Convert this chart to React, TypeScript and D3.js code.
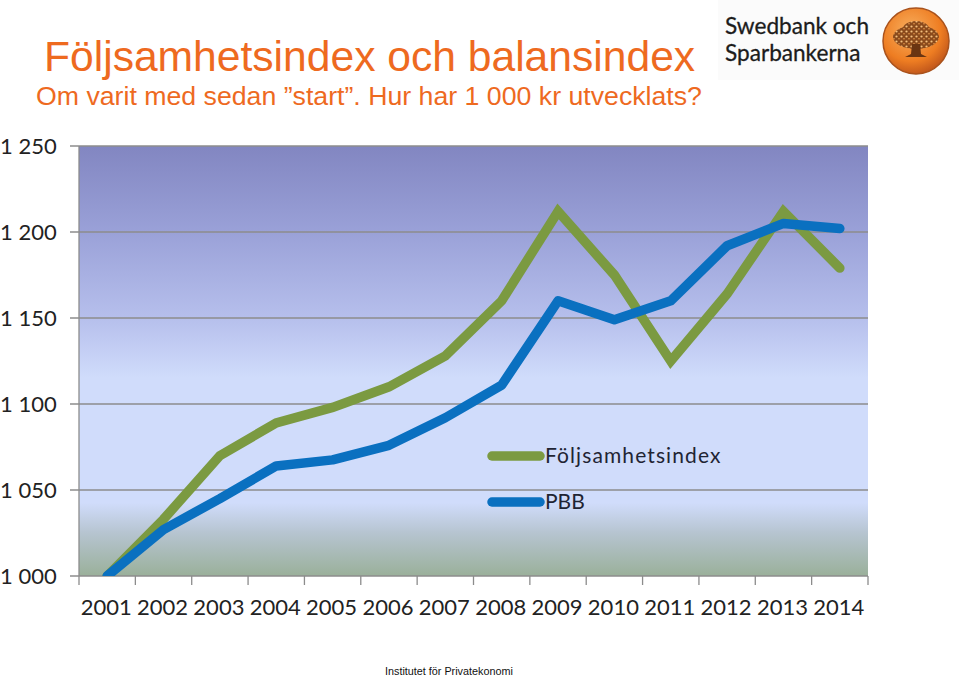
import React from 'react';
import * as d3 from 'd3';

const years = ['2001', '2002', '2003', '2004', '2005', '2006', '2007', '2008', '2009', '2010', '2011', '2012', '2013', '2014'];
const foljsamhet = [1000, 1033, 1070, 1089, 1098, 1110, 1128, 1160, 1212, 1175, 1125, 1164, 1212, 1179];
const pbb = [1000, 1027, 1045, 1064, 1067.5, 1076, 1092, 1111, 1160, 1149, 1160, 1192, 1205, 1202];
const yTicks = [1000, 1050, 1100, 1150, 1200, 1250];
const yTickLabels = ['1 000', '1 050', '1 100', '1 150', '1 200', '1 250'];

const WIDTH = 959;
const HEIGHT = 677;
const GREEN = '#7b9a41';
const BLUE = '#0a70c0';
const ORANGE = '#ee6a1f';
const AXIS = '#8c8c8c';
const CHART_FONT = 'Lato, "Open Sans", sans-serif';
const HEAD_FONT = '"Liberation Sans", Arial, sans-serif';

export default function App() {
  const x = d3.scaleBand<string>().domain(years).range([79, 868]);
  const y = d3.scaleLinear().domain([1000, 1250]).range([576, 146]);
  const center = (yr: string) => (x(yr) ?? 0) + x.bandwidth() / 2;

  const line = d3.line<number>()
    .x((_, i) => center(years[i]))
    .y(d => y(d));

  // tick marks sit on the band edges
  const edges = [...years.map(yr => x(yr) ?? 0), 868];

  return (
    <svg
      width={WIDTH}
      height={HEIGHT}
      viewBox={`0 0 ${WIDTH} ${HEIGHT}`}
      style={{ position: 'absolute', left: 0, top: 0, display: 'block', background: '#fff' }}
    >
      <defs>
        <linearGradient id="plot-bg" x1="0" y1="0" x2="0" y2="1">
          <stop offset="0%" stopColor="#8286c1" />
          <stop offset="20%" stopColor="#9aa1d8" />
          <stop offset="40%" stopColor="#b6bfec" />
          <stop offset="54%" stopColor="#d0dcfb" />
          <stop offset="83%" stopColor="#d0dcfb" />
          <stop offset="90%" stopColor="#b6c4d0" />
          <stop offset="100%" stopColor="#9ab09a" />
        </linearGradient>
        <radialGradient id="coin" cx="42%" cy="35%" r="70%">
          <stop offset="0%" stopColor="#f8b060" />
          <stop offset="65%" stopColor="#ee7d22" />
          <stop offset="100%" stopColor="#b9501a" />
        </radialGradient>
        <pattern id="leaves" width="5" height="5" patternUnits="userSpaceOnUse">
          <rect width="5" height="5" fill="#8a4a1c" />
          <circle cx="1.5" cy="1.5" r="1.1" fill="#f3c07e" />
          <circle cx="4" cy="3.8" r="0.8" fill="#e89a4c" />
        </pattern>
        <clipPath id="plot-floor">
          <rect x={0} y={0} width={WIDTH} height={y(1000)} />
        </clipPath>
      </defs>

      <text x={44} y={71} fontFamily={HEAD_FONT} fontSize={42.6} fill={ORANGE}>Följsamhetsindex och balansindex</text>
      <text x={36} y={105} fontFamily={HEAD_FONT} fontSize={26.7} fill={ORANGE}>Om varit med sedan ”start”. Hur har 1 000 kr utvecklats?</text>

      {/* logo */}
      <rect x={718} y={0} width={241} height={80} fill="#fbfbfb" />
      <text x={725} y={34} fontFamily={CHART_FONT} fontSize={22.6} fill="#1c1c1c" stroke="#1c1c1c" strokeWidth={0.3}>Swedbank och</text>
      <text x={725} y={61} fontFamily={CHART_FONT} fontSize={22.6} fill="#1c1c1c" stroke="#1c1c1c" strokeWidth={0.3}>Sparbankerna</text>
      <circle cx={916} cy={41} r={33} fill="url(#coin)" stroke="#a9521c" strokeWidth={1.5} />
      <ellipse cx={916} cy={37} rx={23} ry={12} fill="url(#leaves)" />
      <ellipse cx={916} cy={29} rx={13} ry={8} fill="url(#leaves)" />
      <path d="M912 44 L920 44 L921 54 L927 57 L905 57 L911 54 Z" fill="#6a3512" />

      {/* plot */}
      <rect x={79} y={146} width={789} height={430} fill="url(#plot-bg)" />
      {yTicks.map(t => (
        <line key={t} x1={70} x2={868} y1={y(t)} y2={y(t)} stroke={AXIS} strokeWidth={1.3} />
      ))}
      <line x1={79} x2={79} y1={146} y2={576} stroke={AXIS} strokeWidth={1.3} />
      {edges.map(e => (
        <line key={e} x1={e} x2={e} y1={576} y2={585} stroke={AXIS} strokeWidth={1.3} />
      ))}

      {yTicks.map((t, i) => (
        <text key={t} x={0} y={y(t) + 8} fontFamily={CHART_FONT} fontSize={22} fill="#222">{yTickLabels[i]}</text>
      ))}
      {years.map(yr => (
        <text key={yr} x={center(yr) - 1} y={615} textAnchor="middle" fontFamily={CHART_FONT} fontSize={22} fill="#222">{yr}</text>
      ))}

      <g clipPath="url(#plot-floor)" fill="none" strokeWidth={9.5} strokeLinecap="round" strokeLinejoin="round">
        <path d={line(foljsamhet) ?? ''} stroke={GREEN} strokeLinejoin="miter" />
        <path d={line(pbb) ?? ''} stroke={BLUE} />
      </g>

      {/* legend */}
      <line x1={492} x2={540} y1={456} y2={456} stroke={GREEN} strokeWidth={9.5} strokeLinecap="round" />
      <text x={545} y={463} fontFamily={CHART_FONT} fontSize={21} letterSpacing={1.1} fill="#1f2433">Följsamhetsindex</text>
      <line x1={492} x2={540} y1={502} y2={502} stroke={BLUE} strokeWidth={9.5} strokeLinecap="round" />
      <text x={545} y={509} fontFamily={CHART_FONT} fontSize={21} fill="#1f2433">PBB</text>

      <text x={385} y={675} fontFamily={HEAD_FONT} fontSize={10.8} fill="#111">Institutet för Privatekonomi</text>
    </svg>
  );
}
